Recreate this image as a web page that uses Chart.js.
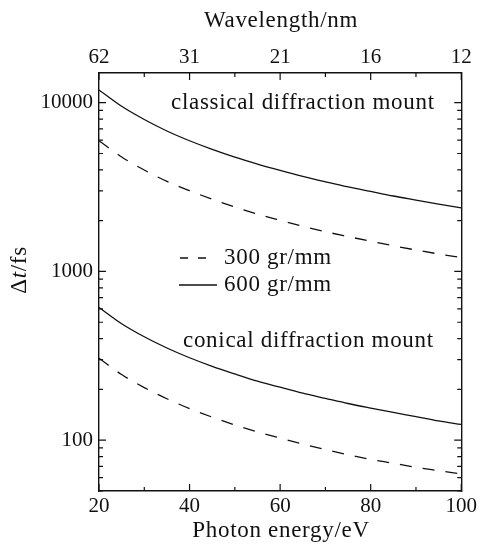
<!DOCTYPE html>
<html>
<head>
<meta charset="utf-8">
<script src="https://cdn.jsdelivr.net/npm/chart.js@4.4.1/dist/chart.umd.min.js"></script>
<style>
  html, body { margin: 0; padding: 0; background: #fff; }
  #wrap { width: 480px; height: 547px; }
</style>
</head>
<body>
<div id="wrap"><canvas id="chart"></canvas></div>
<script>
// photon energy (eV) and pulse stretching (fs)
const energies = [20, 25, 30, 35, 40, 45, 50, 55, 60, 65, 70, 75, 80, 85, 90, 95, 100];
const classical600 = [11900, 9520, 7950, 6800, 5950, 5290, 4760, 4330, 3970, 3660, 3400, 3170, 2980, 2800, 2650, 2510, 2380];
const classical300 = [5950, 4770, 3990, 3420, 3010, 2680, 2410, 2190, 2010, 1850, 1720, 1610, 1510, 1420, 1340, 1270, 1210];
const conical600 = [612, 490, 410, 352, 308, 274, 247, 224, 206, 190, 177, 165, 155, 146, 138, 130, 124];
const conical300 = [306, 245, 205, 176, 154, 137, 123, 112, 103, 95, 88, 82, 77, 73, 69, 66, 63];

const energyTicks = [20, 40, 60, 80, 100];
const energyMinorTicks = [30, 50, 70, 90];
const wavelengthLabels = ['62', '31', '21', '16', '12'];
const yMajorTicks = [100, 1000, 10000];
const yMinorTicks = [50, 60, 70, 80, 90, 200, 300, 400, 500, 600, 700, 800, 900,
                     2000, 3000, 4000, 5000, 6000, 7000, 8000, 9000];

const FONT = '"Liberation Serif", "Times New Roman", serif';
const INK = '#111';

function pts(ys) {
  return energies.map((e, i) => ({ x: e, y: ys[i] }));
}

function line(label, ys, dashed) {
  return {
    label: label,
    data: pts(ys),
    borderColor: INK,
    borderWidth: 1.3,
    borderDash: dashed ? [12, 11] : [],
    pointRadius: 0,
    fill: false,
    cubicInterpolationMode: 'monotone'
  };
}

function fixSize(prop, size) {
  return function (scale) { scale[prop] = size; };
}

const tickFont = { family: FONT, size: 21 };
const noGrid = { display: false, drawTicks: false };
const frame = { display: true, color: INK, width: 1.4 };

const decor = {
  id: 'decor',
  afterDraw(chart) {
    const ctx = chart.ctx;
    const { x, y } = chart.scales;
    const a = chart.chartArea;
    ctx.save();
    ctx.strokeStyle = INK;
    ctx.lineWidth = 1.2;
    ctx.beginPath();
    // inward tick marks on all four sides
    energyTicks.concat(energyMinorTicks).forEach(v => {
      const len = energyTicks.includes(v) ? 7 : 4;
      const px = x.getPixelForValue(v);
      ctx.moveTo(px, a.bottom); ctx.lineTo(px, a.bottom - len);
      ctx.moveTo(px, a.top); ctx.lineTo(px, a.top + len);
    });
    yMajorTicks.concat(yMinorTicks).forEach(v => {
      const len = yMajorTicks.includes(v) ? 7 : 4;
      const py = y.getPixelForValue(v);
      ctx.moveTo(a.left, py); ctx.lineTo(a.left + len, py);
      ctx.moveTo(a.right, py); ctx.lineTo(a.right - len, py);
    });
    ctx.stroke();

    ctx.fillStyle = INK;
    ctx.textBaseline = 'middle';
    ctx.font = '23px ' + FONT;
    ctx.letterSpacing = '0.7px';

    ctx.textAlign = 'center';
    ctx.fillText('Wavelength/nm', 281, 21);
    ctx.fillText('Photon energy/eV', 281, 531);

    ctx.textAlign = 'left';
    ctx.fillText('classical diffraction mount', 171, 103);
    ctx.fillText('conical diffraction mount', 183, 341);
    ctx.fillText('300 gr/mm', 224, 258);
    ctx.fillText('600 gr/mm', 224, 285);

    // legend samples
    ctx.lineWidth = 1.3;
    ctx.beginPath();
    ctx.setLineDash([8, 10]);
    ctx.moveTo(180, 258); ctx.lineTo(206, 258);
    ctx.stroke();
    ctx.setLineDash([]);
    ctx.beginPath();
    ctx.moveTo(179, 285); ctx.lineTo(217, 285);
    ctx.stroke();

    // rotated y title: Δt/fs with italic t
    ctx.translate(20, 270);
    ctx.rotate(-Math.PI / 2);
    const parts = [['Δ', ''], ['t', 'italic '], ['/fs', '']];
    let w = 0;
    parts.forEach(p => { ctx.font = p[1] + '23px ' + FONT; w += ctx.measureText(p[0]).width; });
    let cx = -w / 2;
    parts.forEach(p => {
      ctx.font = p[1] + '23px ' + FONT;
      ctx.fillText(p[0], cx, 0);
      cx += ctx.measureText(p[0]).width;
    });
    ctx.restore();
  }
};

new Chart(document.getElementById('chart'), {
  type: 'line',
  data: {
    datasets: [
      line('classical 600 gr/mm', classical600, false),
      line('classical 300 gr/mm', classical300, true),
      line('conical 600 gr/mm', conical600, false),
      line('conical 300 gr/mm', conical300, true)
    ]
  },
  options: {
    responsive: true,
    maintainAspectRatio: false,
    animation: false,
    devicePixelRatio: 1,
    layout: { padding: 0 },
    plugins: { legend: { display: false }, tooltip: { enabled: false } },
    scales: {
      x: {
        type: 'linear', position: 'bottom', min: 20, max: 100,
        afterBuildTicks: s => { s.ticks = energyTicks.map(v => ({ value: v })); },
        afterFit: fixSize('height', 56),
        ticks: { color: INK, font: tickFont, padding: 3, maxRotation: 0 },
        grid: noGrid, border: frame
      },
      x2: {
        type: 'linear', position: 'top', min: 20, max: 100,
        afterBuildTicks: s => { s.ticks = energyTicks.map(v => ({ value: v })); },
        afterFit: fixSize('height', 73),
        ticks: {
          color: INK, font: tickFont, padding: 3, maxRotation: 0,
          callback: v => wavelengthLabels[energyTicks.indexOf(v)]
        },
        grid: noGrid, border: frame
      },
      y: {
        type: 'logarithmic', position: 'left', min: 50, max: 15000,
        afterBuildTicks: s => { s.ticks = yMajorTicks.map(v => ({ value: v })); },
        afterFit: fixSize('width', 99),
        ticks: { color: INK, font: tickFont, padding: 6, callback: v => String(v) },
        grid: noGrid, border: frame
      },
      y2: {
        type: 'logarithmic', position: 'right', min: 50, max: 15000,
        afterFit: fixSize('width', 16),
        ticks: { display: false },
        grid: noGrid, border: frame
      }
    }
  },
  plugins: [decor]
});
</script>
</body>
</html>
